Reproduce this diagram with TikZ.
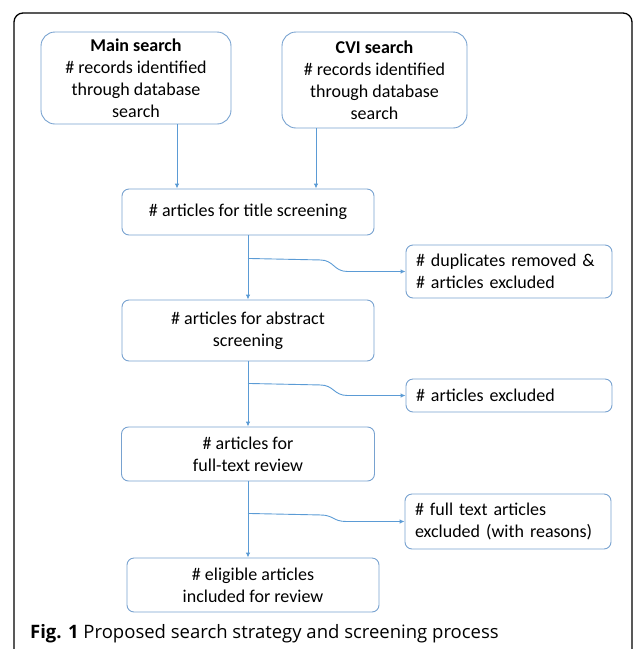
\documentclass[tikz,border=0pt]{standalone}
\usepackage{fontspec}
\setmainfont{Carlito}
\newfontfamily\capfont{Open Sans}
\usetikzlibrary{arrows.meta,calc}
\definecolor{boxblue}{RGB}{120,162,208}
\definecolor{arrowblue}{RGB}{91,155,213}
\begin{document}
\begin{tikzpicture}[x=1pt,y=-1pt,
  box/.style={draw=boxblue, line width=0.9pt, rounded corners=7pt, align=center,
    inner sep=0pt, font=\fontsize{18}{22}\selectfont},
  sidebox/.style={box, align=left, inner xsep=10pt, text width=186pt},
  flow/.style={draw=arrowblue, line width=0.9pt, -{Latex[length=5pt,width=4.5pt]}}]

\useasboundingbox (0,0) rectangle (633,649);
\draw [line width=1.3pt, rounded corners=9pt] (14,662) -- (14,13) -- (632,13) -- (632,662);

\node[box, minimum width=190pt, minimum height=92pt, rounded corners=14pt] (main) at (136,78)
  {\textbf{Main search}\\\# records identified\\through database\\search};
\node[box, minimum width=185pt, minimum height=96pt, rounded corners=14pt] (cvi) at (374.5,80)
  {\textbf{CVI search}\\\# records identified\\through database\\search};

\node[box, minimum width=252pt, minimum height=46pt] (title) at (248,212) {\# articles for title screening};
\node[box, minimum width=252pt, minimum height=61pt] (abstract) at (248,330.5) {\# articles for abstract\\screening};
\node[box, minimum width=253pt, minimum height=54pt] (fulltext) at (248,454) {\# articles for\\full-text review};
\node[box, minimum width=252pt, minimum height=54pt] (eligible) at (253,585) {\# eligible articles\\included for review};

\node[sidebox, minimum height=53pt] (dup) at (509,271.5) {\# duplicates removed \&\\\# articles excluded};
\node[sidebox, minimum height=33pt] (excl) at (509,395.5) {\# articles excluded};
\node[sidebox, minimum height=55pt] (ftexcl) at (508,521.5) {\# full text articles\\excluded (with reasons)};

\node[anchor=base west, inner sep=0pt, font=\capfont\fontsize{18.5}{22}\selectfont] (caption) at (30,638)
  {\textbf{Fig. 1} Proposed search strategy and screening process};

% searches into title screening
\draw[flow] ($(main.south)+(41,0)$) -- ($(title.north)+(-71,0)$);
\draw[flow] ($(cvi.south)+(-58.5,0)$) -- ($(title.north)+(68,0)$);

% main line
\draw[flow] (title.south) -- (abstract.north);
\draw[flow] (abstract.south) -- (fulltext.north);
\draw[flow] (fulltext.south) -- (fulltext.south |- eligible.north);

% exclusions
\coordinate (b1) at ($(title.south)+(0,23)$);
\coordinate (b2) at ($(abstract.south)+(0,22)$);
\coordinate (b3) at ($(fulltext.south)+(0,32)$);
\draw[flow] (b1) -- ++(72,1.5) .. controls +(14,0) and +(-14,0) .. ($(dup.west)+(-58,0)$) -- (dup.west);
\draw[flow] (b2) -- ++(72,1.5) .. controls +(14,0) and +(-14,0) .. ($(excl.west)+(-58,0)$) -- (excl.west);
\draw[flow] (b3) -- ++(72,1.5) .. controls +(14,0) and +(-14,0) .. ($(ftexcl.west)+(-58,0)$) -- (ftexcl.west);
\end{tikzpicture}
\end{document}
